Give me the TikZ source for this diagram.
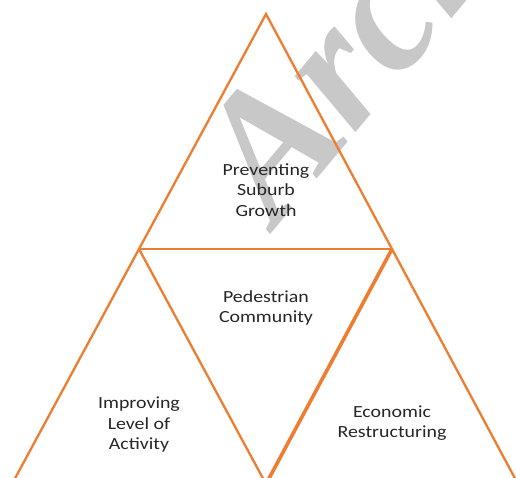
\documentclass[tikz,border=0pt]{standalone}
\usepackage{fontspec}
\setmainfont{Carlito}
\newfontfamily\labelfont[FakeStretch=1.17]{Carlito}
\newfontfamily\markfont{Liberation Serif}
\definecolor{pyrorange}{HTML}{ED7D31}
\definecolor{pyrtext}{HTML}{262626}
\definecolor{markgray}{HTML}{C8C8C8}

\begin{document}
\begin{tikzpicture}[x=1pt,y=-1pt,
    side/.style={draw=pyrorange,line width=2.3pt},
    label/.style={text=pyrtext,align=center,font=\labelfont\fontsize{17}{20.5}\selectfont}]
  \useasboundingbox (0,0) rectangle (516,478);
  \clip (0,0) rectangle (516,478);
  \node[text=markgray,rotate=50,anchor=base west,inner sep=0pt,
    font=\markfont\bfseries\itshape\fontsize{180}{180}\selectfont] (mark) at (276,228) {Archive};
  \coordinate (top) at (266,14);
  \coordinate (ml) at (139,249);
  \coordinate (mr) at (392,249);
  \coordinate (bl) at (12,484);
  \coordinate (bm) at (266,484);
  \coordinate (br) at (518,484);
  \draw[side] (bl) -- (top) -- (br);
  \draw[side] (ml) -- (mr);
  \draw[side] (ml) -- (bm);
  \draw[side,line width=3.6pt] (mr) -- (bm);
  \node[label] (t1) at (266,190) {Preventing\\Suburb\\Growth};
  \node[label] (t2) at (266,308) {Pedestrian\\Community};
  \node[label] (t3) at (139,425) {Improving\\Level of\\Activity};
  \node[label] (t4) at (392,423) {Economic\\Restructuring};
\end{tikzpicture}
\end{document}
